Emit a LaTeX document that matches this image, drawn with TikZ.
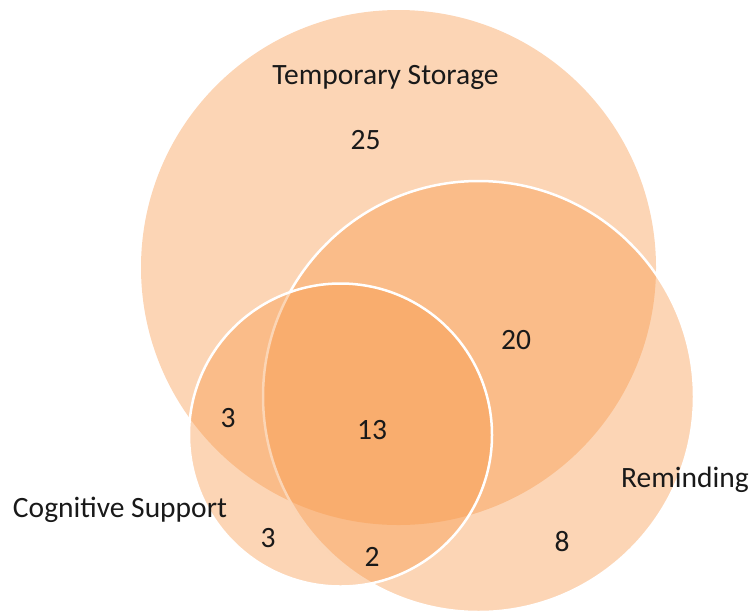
\documentclass[tikz,border=0pt]{standalone}
\usepackage{fontspec}
\setmainfont{Carlito}
\definecolor{vennorange}{HTML}{F79646}
\begin{document}
\begin{tikzpicture}[x=1pt,y=-1pt,
  setfill/.style={fill=vennorange,fill opacity=0.4},
  setedge/.style={setfill,draw=white,draw opacity=1,line width=2.5pt},
  lbl/.style={anchor=base,inner sep=0pt,font=\fontsize{29.5}{35}\selectfont,text=black!90}]
  \useasboundingbox (0,0) rectangle (751,614);
  % sets
  \fill[setfill] (398.5,267.5) circle[radius=257.5];
  \path[setedge] (478.5,396.5) circle[radius=215.5];
  \path[setedge] (340.5,435) circle[radius=151.5];
  % set names
  \node[lbl] (ts) at (385.5,84) {Temporary Storage};
  \node[lbl] (rm) at (685,487) {Reminding};
  \node[lbl] (cs) at (120,517) {Cognitive Support};
  % region counts
  \node[lbl] (n25) at (365.5,149) {25};
  \node[lbl] (n20) at (516,349) {20};
  \node[lbl] (n3a) at (228,427) {3};
  \node[lbl] (n13) at (372,439) {13};
  \node[lbl] (n3b) at (268,547) {3};
  \node[lbl] (n2) at (372,566) {2};
  \node[lbl] (n8) at (562,551) {8};
\end{tikzpicture}
\end{document}
